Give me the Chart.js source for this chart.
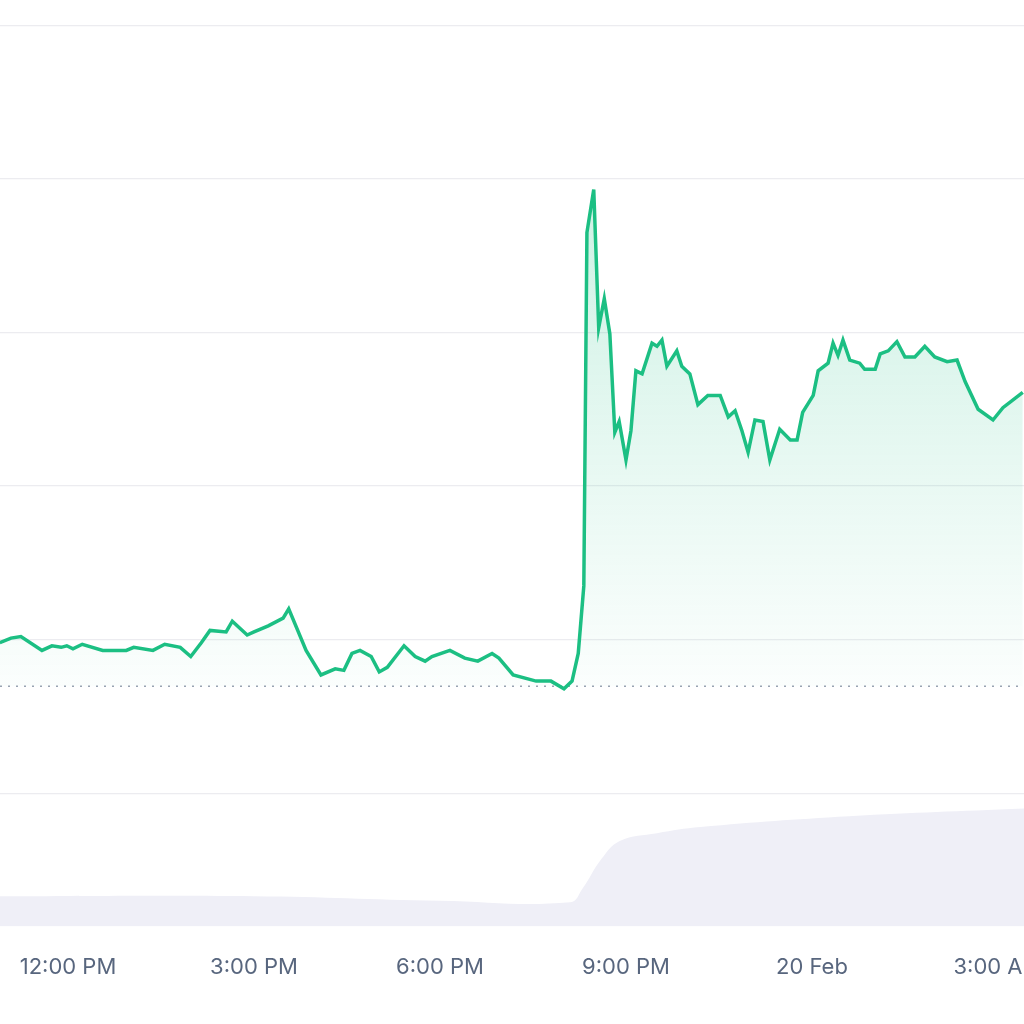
<!DOCTYPE html>
<html>
<head>
<meta charset="utf-8">
<script src="https://cdn.jsdelivr.net/npm/chart.js@4"></script>
<style>
  html, body { margin: 0; padding: 0; background: #fff; }
  #wrap { width: 1024px; height: 1024px; }
</style>
</head>
<body>
<div id="wrap"><canvas id="priceChart"></canvas></div>
<script>
// hours after 12:00 PM, price in grid units
const priceHours = [-1.10,-0.92,-0.76,-0.42,-0.26,-0.11,-0.02,0.08,0.23,0.56,0.94,1.06,1.37,1.56,1.81,1.98,2.15,2.29,2.55,2.65,2.89,3.00,3.23,3.47,3.56,3.84,4.08,4.31,4.45,4.58,4.71,4.89,5.02,5.15,5.42,5.60,5.76,5.87,6.16,6.40,6.61,6.84,6.95,7.18,7.55,7.79,8.00,8.13,8.23,8.32,
  8.37,8.48,8.56,8.65,8.74,8.82,8.89,9.00,9.08,9.16,9.26,9.42,9.50,9.58,9.66,9.82,9.90,10.03,10.16,10.32,10.52,10.65,10.76,10.87,10.97,11.08,11.21,11.32,11.48,11.65,11.76,11.85,12.02,12.10,12.26,12.34,12.42,12.50,12.61,12.77,12.85,13.02,13.10,13.23,13.37,13.50,13.66,13.82,13.98,14.18,14.34,14.47,14.68,14.92,15.08,15.40];
const priceValues = [0.98,1.01,1.02,0.93,0.96,0.95,0.96,0.94,0.97,0.93,0.93,0.95,0.93,0.97,0.95,0.89,0.98,1.06,1.05,1.12,1.03,1.05,1.09,1.14,1.20,0.93,0.77,0.81,0.80,0.91,0.93,0.89,0.79,0.82,0.96,0.89,0.86,0.89,0.93,0.88,0.86,0.91,0.88,0.77,0.73,0.73,0.68,0.73,0.91,1.35,
  3.65,3.93,3.03,3.22,2.99,2.35,2.42,2.17,2.36,2.75,2.73,2.93,2.91,2.95,2.78,2.88,2.78,2.73,2.53,2.59,2.59,2.45,2.49,2.36,2.22,2.43,2.42,2.17,2.37,2.30,2.30,2.48,2.59,2.75,2.80,2.93,2.85,2.95,2.82,2.80,2.76,2.76,2.86,2.88,2.94,2.84,2.84,2.91,2.84,2.81,2.82,2.68,2.50,2.43,2.51,2.61];
const openPrice = 0.697;

const volumeHours = [-1.10,3.0,6.0,8.1,8.3,8.6,8.9,9.5,10.2,12.6,15.42];
const volumeValues = [-0.67,-0.67,-0.70,-0.71,-0.62,-0.43,-0.31,-0.26,-0.22,-0.15,-0.10];

const tickHours = [0,3,6,9,12,15];
const tickLabels = ['12:00 PM','3:00 PM','6:00 PM','9:00 PM','20 Feb','3:00 AM'];

const xMin = -1.097, xMax = 15.42, yMin = -0.868, yMax = 5.164;

const ctx = document.getElementById('priceChart').getContext('2d');
new Chart(ctx, {
  type: 'line',
  data: {
    datasets: [
      {
        data: priceHours.map((h, i) => ({x: h, y: priceValues[i]})),
        borderColor: '#1cbf83',
        borderWidth: 3.5,
        pointRadius: 0,
        tension: 0,
        fill: {value: openPrice},
        backgroundColor: (c) => {
          const a = c.chart.chartArea;
          if (!a) return 'rgba(28,191,131,0.1)';
          const g = c.chart.ctx.createLinearGradient(0, a.top + 170, 0, a.top + 680);
          g.addColorStop(0, 'rgba(28,191,131,0.22)');
          g.addColorStop(1, 'rgba(28,191,131,0.02)');
          return g;
        },
        order: 1
      },
      {
        data: [{x: xMin, y: openPrice}, {x: xMax, y: openPrice}],
        borderColor: '#9aa3b2',
        borderWidth: 1.5,
        borderDash: [2, 6],
        pointRadius: 0,
        fill: false,
        order: 2
      },
      {
        data: volumeHours.map((h, i) => ({x: h, y: volumeValues[i]})),
        borderWidth: 0,
        pointRadius: 0,
        tension: 0.4,
        fill: 'start',
        backgroundColor: '#efeff7',
        order: 3
      }
    ]
  },
  options: {
    responsive: true,
    maintainAspectRatio: false,
    animation: false,
    layout: { padding: { left: 0, right: 0, top: 0, bottom: 23 } },
    plugins: { legend: { display: false }, tooltip: { enabled: false } },
    scales: {
      x: {
        type: 'linear',
        min: xMin,
        max: xMax,
        grid: { display: false },
        border: { display: false },
        afterBuildTicks: (s) => { s.ticks = tickHours.map(v => ({value: v})); },
        afterFit: (s) => { s.paddingLeft = 0; s.paddingRight = 0; },
        ticks: {
          padding: 20,
          maxRotation: 0,
          autoSkip: false,
          color: '#58667e',
          font: { family: 'Inter', size: 22 },
          callback: (v) => tickLabels[tickHours.indexOf(v)] || ''
        }
      },
      y: {
        min: yMin,
        max: yMax,
        border: { display: false },
        afterFit: (s) => { s.width = 0; },
        afterBuildTicks: (s) => { s.ticks = [0,1,2,3,4,5].map(v => ({value: v})); },
        ticks: { display: false },
        grid: { color: '#ececf0', lineWidth: 1.2, drawTicks: false }
      }
    }
  }
});
</script>
</body>
</html>
